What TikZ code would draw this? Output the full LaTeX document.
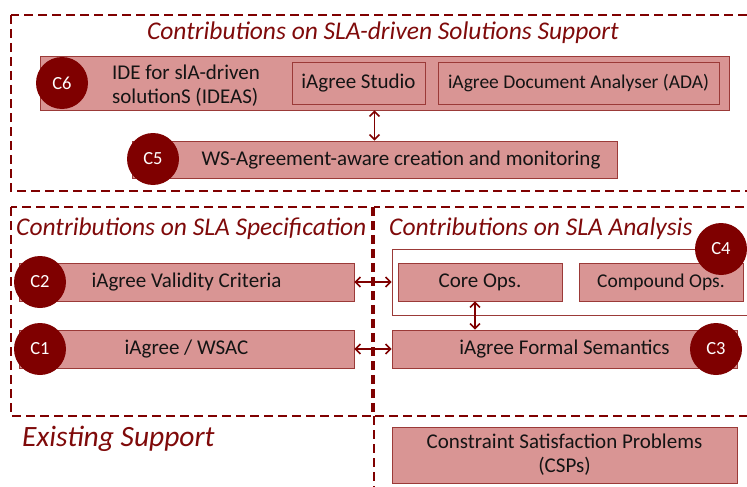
\documentclass[tikz,border=0pt]{standalone}
\usepackage{fontspec}
\setmainfont{Carlito}
\usetikzlibrary{arrows.meta}
\definecolor{boxfill}{HTML}{D99594}
\definecolor{boxline}{HTML}{9B3A38}
\definecolor{badgered}{HTML}{7F0000}
\definecolor{titlered}{HTML}{7F0A0A}
\definecolor{inktext}{HTML}{141414}
\begin{document}
\begin{tikzpicture}[x=1pt, y=-1pt,
    box/.style ={draw=boxline, fill=boxfill, line width=0.8pt, inner sep=0pt, text=inktext,
                 font=\fontsize{21}{25}\selectfont},
    badge/.style ={circle, fill=badgered, inner sep=0pt, minimum size=52pt, text=white,
                 font=\fontsize{18.5}{20}\selectfont},
    area/.style ={draw=badgered, dash pattern=on 9pt off 5pt, line width=2pt},
    heading/.style ={text=titlered, inner sep=0pt, font=\fontsize{25.5}{28}\selectfont\itshape},
    link/.style ={{Straight Barb[length=5pt,width=10pt]}-{Straight Barb[length=5pt,width=10pt]},
                 draw=badgered, line width=1.5pt}]
   \clip (0,0) rectangle (747,487);

   % dashed areas
   \draw[area] (11,15) rectangle (770,191);
   \draw[area] (11,207) rectangle (372,416);
   \draw[area] (374,207) rectangle (770,416);
   \draw[area] (374,416) -- (374,500);

   % headings
   \node[heading] (hsol)  at (383,33)  {Contributions on SLA-driven Solutions Support};
   \node[heading, anchor=west] (hspec) at (16,229)  {Contributions on SLA Specification};
   \node[heading, anchor=west] (hana)  at (389,229) {Contributions on SLA Analysis};
   \node[heading, anchor=west, font=\fontsize{29.5}{32}\selectfont\itshape] (hexist) at (22,439) {Existing Support};

   % solutions support
   \node[box, minimum width=689pt, minimum height=54pt] (ideas) at (384.5,83) {};
   \node[text=inktext, align=left, anchor=west, inner sep=0pt, font=\fontsize{21}{24}\selectfont] (ideastext) at (112,86) {IDE for slA-driven\\solutionS (IDEAS)};
   \node[box, minimum width=133pt, minimum height=42pt] (studio) at (358.5,83) {iAgree Studio};
   \node[box, minimum width=281pt, minimum height=42pt, font=\fontsize{19.5}{23}\selectfont] (ada) at (578.5,83) {iAgree Document Analyser (ADA)};
   \node[box, minimum width=485pt, minimum height=37pt] (wsag) at (374.5,159.5) {};
   \node[text=inktext, inner sep=0pt, font=\fontsize{21}{25}\selectfont] (wsagtext) at (401,160) {WS-Agreement-aware creation and monitoring};
   \node[badge] (C6) at (62,83)  {C6};
   \node[badge] (C5) at (153,159) {C5};

   % specification
   \node[box, minimum width=335pt, minimum height=38pt] (validity) at (186.5,282) {iAgree Validity Criteria};
   \node[box, minimum width=335pt, minimum height=38pt] (wsac) at (186.5,349) {iAgree / WSAC};
   \node[badge] (C2) at (40,282) {C2};
   \node[badge] (C1) at (40,349) {C1};

   % analysis
   \node[draw=boxline, fill=white, line width=0.8pt, minimum width=368pt, minimum height=66pt] (ops) at (576,282) {};
   \node[box, minimum width=164pt, minimum height=38pt] (core) at (480,282) {Core Ops.};
   \node[box, minimum width=164pt, minimum height=38pt, font=\fontsize{19.5}{23}\selectfont] (compound) at (661,282) {Compound Ops.};
   \node[box, minimum width=345pt, minimum height=38pt] (formal) at (564.5,349) {iAgree Formal Semantics};
   \node[badge] (C4) at (721,249) {C4};
   \node[badge] (C3) at (716,349) {C3};

   % existing support
   \node[box, align=center, minimum width=345pt, minimum height=56pt, font=\fontsize{21}{24}\selectfont] (csp) at (564.5,455) {Constraint Satisfaction Problems\\(CSPs)};

   \draw[link] (wsag.north) -- (wsag.north |- ideas.south);
   \draw[link] (validity) -- (ops);
   \draw[link] (wsac) -- (formal);
   \draw[link] (475,0 |- core.south) -- (475,0 |- formal.north);
 \end{tikzpicture}
\end{document}
